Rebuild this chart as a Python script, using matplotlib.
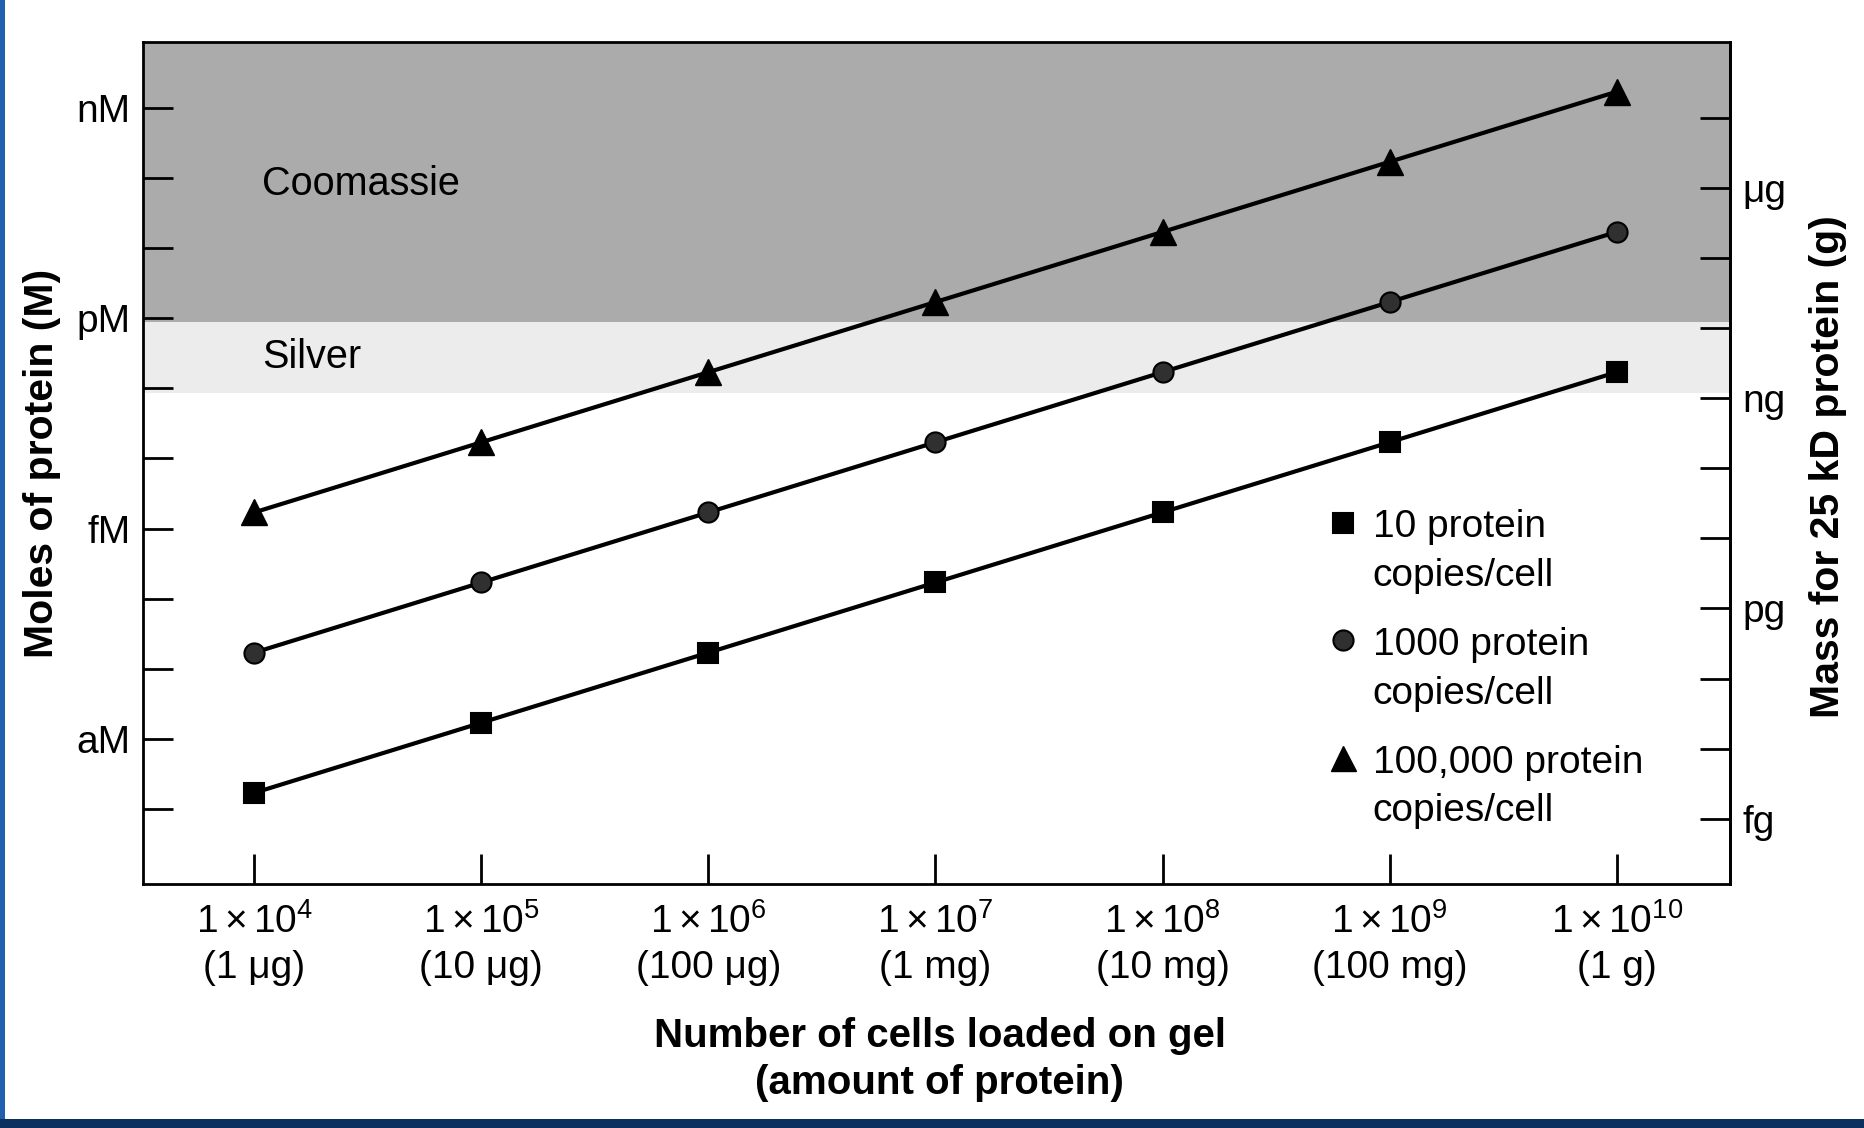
import numpy as np
import matplotlib
matplotlib.use("Agg")
import matplotlib.pyplot as plt
from matplotlib.legend_handler import HandlerLine2D
from matplotlib.lines import Line2D
from matplotlib.patches import Rectangle
from matplotlib.ticker import NullLocator

plt.rcParams['font.family'] = ['Liberation Sans', 'DejaVu Sans']
plt.rcParams['mathtext.fontset'] = 'custom'
plt.rcParams['mathtext.rm'] = 'Liberation Sans'
plt.rcParams['mathtext.it'] = 'Liberation Sans:italic'
plt.rcParams['mathtext.bf'] = 'Liberation Sans:bold'

# ---------------- data ----------------
cell_exponents = [4, 5, 6, 7, 8, 9, 10]
cells = [1e4, 1e5, 1e6, 1e7, 1e8, 1e9, 1e10]
protein_amounts = ['1 μg', '10 μg', '100 μg', '1 mg', '10 mg', '100 mg', '1 g']

moles_10_copies = [1.7e-19, 1.7e-18, 1.7e-17, 1.7e-16, 1.7e-15, 1.7e-14, 1.7e-13]
moles_1000_copies = [1.7e-17, 1.7e-16, 1.7e-15, 1.7e-14, 1.7e-13, 1.7e-12, 1.7e-11]
moles_100000_copies = [1.7e-15, 1.7e-14, 1.7e-13, 1.7e-12, 1.7e-11, 1.7e-10, 1.7e-9]

series_labels = ['10 protein\ncopies/cell', '1000 protein\ncopies/cell',
                 '100,000 protein\ncopies/cell']

molar_label_values = [1e-9, 1e-12, 1e-15, 1e-18]
molar_labels = ['nM', 'pM', 'fM', 'aM']
mass_label_values = [1e-6, 1e-9, 1e-12, 1e-15]
mass_labels = ['μg', 'ng', 'pg', 'fg']

coomassie_lower = 10 ** -12.06
silver_lower = 10 ** -13.07
mass_offset_decades = 4.14   # mass(g) = moles * 10**offset on the drawn scale

# ---------------- figure ----------------
fig = plt.figure(figsize=(18.65, 11.28), dpi=100)
ax = fig.add_axes([0.0767, 0.2163, 0.851, 0.7465])
ax.set_xscale('log')
ax.set_yscale('log')
ax.set_xlim(10 ** 3.51, 10 ** 10.5)
ax.set_ylim(10 ** -20.07, 10 ** -8.06)

# detection bands
ax.axhspan(coomassie_lower, 1.0, facecolor='#ababab', edgecolor='none', zorder=0)
ax.axhspan(silver_lower, coomassie_lower, facecolor='#ececec', edgecolor='none', zorder=0)
ax.text(0.075, 0.831, 'Coomassie', transform=ax.transAxes, fontsize=28.5,
        ha='left', va='center', zorder=3)
ax.text(0.075, 0.626, 'Silver', transform=ax.transAxes, fontsize=28.5,
        ha='left', va='center', zorder=3)

lw = 3.0
ax.plot(cells, moles_10_copies, color='black', lw=lw, marker='s', ms=15,
        mfc='black', mec='black', mew=1.5, zorder=4)
ax.plot(cells, moles_1000_copies, color='black', lw=lw, marker='o', ms=14.5,
        mfc='#303030', mec='black', mew=1.5, zorder=4)
ax.plot(cells, moles_100000_copies, color='black', lw=lw, marker='^', ms=18.5,
        mfc='black', mec='black', mew=1.0, zorder=4)

# ---------------- axes styling ----------------
for s in ax.spines.values():
    s.set_linewidth(2.0)

ax.minorticks_off()
ax.set_xticks(cells)
ax.set_xticklabels([f'$\\mathregular{{1\\times10^{{{e}}}}}$\n({m})'
                    for e, m in zip(cell_exponents, protein_amounts)])
for t in ax.get_xticklabels():
    t.set_linespacing(1.3)
ax.tick_params(axis='x', direction='in', length=21.6, width=2.0, pad=14,
               labelsize=28)


def decade_labels(values, named_values, names):
    out = []
    for v in values:
        lab = ''
        for m, name in zip(named_values, names):
            if abs(np.log10(v) - np.log10(m)) < 1e-6:
                lab = name
        out.append(lab)
    return out


ytick_vals = [10.0 ** k for k in range(-19, -8)]
ax.set_yticks(ytick_vals)
ax.set_yticklabels(decade_labels(ytick_vals, molar_label_values, molar_labels))
ax.yaxis.set_minor_locator(NullLocator())
ax.tick_params(axis='y', direction='in', length=21.6, width=2.0, pad=9,
               labelsize=28)

K = 10 ** mass_offset_decades
sec = ax.secondary_yaxis('right', functions=(lambda y: y * K, lambda y: y / K))
sec_vals = [10.0 ** k for k in range(-15, -4)]
sec.set_yticks(sec_vals)
sec.set_yticklabels(decade_labels(sec_vals, mass_label_values, mass_labels))
sec.yaxis.set_minor_locator(NullLocator())
sec.tick_params(axis='y', direction='in', length=21.6, width=2.0, pad=9,
                labelsize=28)
sec.spines['right'].set_linewidth(2.0)

ax.set_xlabel('Number of cells loaded on gel\n(amount of protein)',
              fontsize=29, fontweight='bold', linespacing=1.3)
ax.xaxis.set_label_coords(0.502, -0.208)
ax.xaxis.label.set_va('center')

ax.set_ylabel('Moles of protein (M)', fontsize=29.5, fontweight='bold')
ax.yaxis.set_label_coords(-0.0636, 0.5)
ax.yaxis.label.set_va('center')

fig.text(1828 / 1865, 1 - 467 / 1128, 'Mass for 25 kD protein (g)',
         fontsize=29.5, fontweight='bold', rotation=90, ha='center', va='center')


# ---------------- legend ----------------
class FirstLineHandler(HandlerLine2D):
    def __init__(self, shift_pt, **kw):
        super().__init__(**kw)
        self.shift_pt = shift_pt

    def create_artists(self, legend, orig_handle, xdescent, ydescent, width,
                       height, fontsize, trans):
        arts = super().create_artists(legend, orig_handle, xdescent, ydescent,
                                      width, height, fontsize, trans)
        for a in arts:
            a.set_ydata(np.asarray(a.get_ydata(), float) + self.shift_pt)
        return arts


handles = [
    Line2D([], [], ls='none', marker='s', ms=15, mfc='black', mec='black', mew=1.5),
    Line2D([], [], ls='none', marker='o', ms=14.5, mfc='#303030', mec='black', mew=1.5),
    Line2D([], [], ls='none', marker='^', ms=18, mfc='black', mec='black', mew=1.0),
]
hmap = {h: FirstLineHandler(21, numpoints=1) for h in handles}
leg = ax.legend(handles, series_labels, handler_map=hmap, loc='upper left',
                bbox_to_anchor=(0.746, 0.445), frameon=False, fontsize=28,
                borderpad=0, borderaxespad=0, handlelength=0.8,
                handletextpad=0.37, labelspacing=0.85, numpoints=1)
for t in leg.get_texts():
    t.set_linespacing(1.45)

# slide frame edges
fig.add_artist(Rectangle((0, 0), 5 / 1865, 1, transform=fig.transFigure,
                         facecolor='#1f5fae', edgecolor='none'))
fig.add_artist(Rectangle((0, 0), 1, 9 / 1128, transform=fig.transFigure,
                         facecolor='#0b2f5e', edgecolor='none'))

fig.savefig('out.png', dpi=100)
